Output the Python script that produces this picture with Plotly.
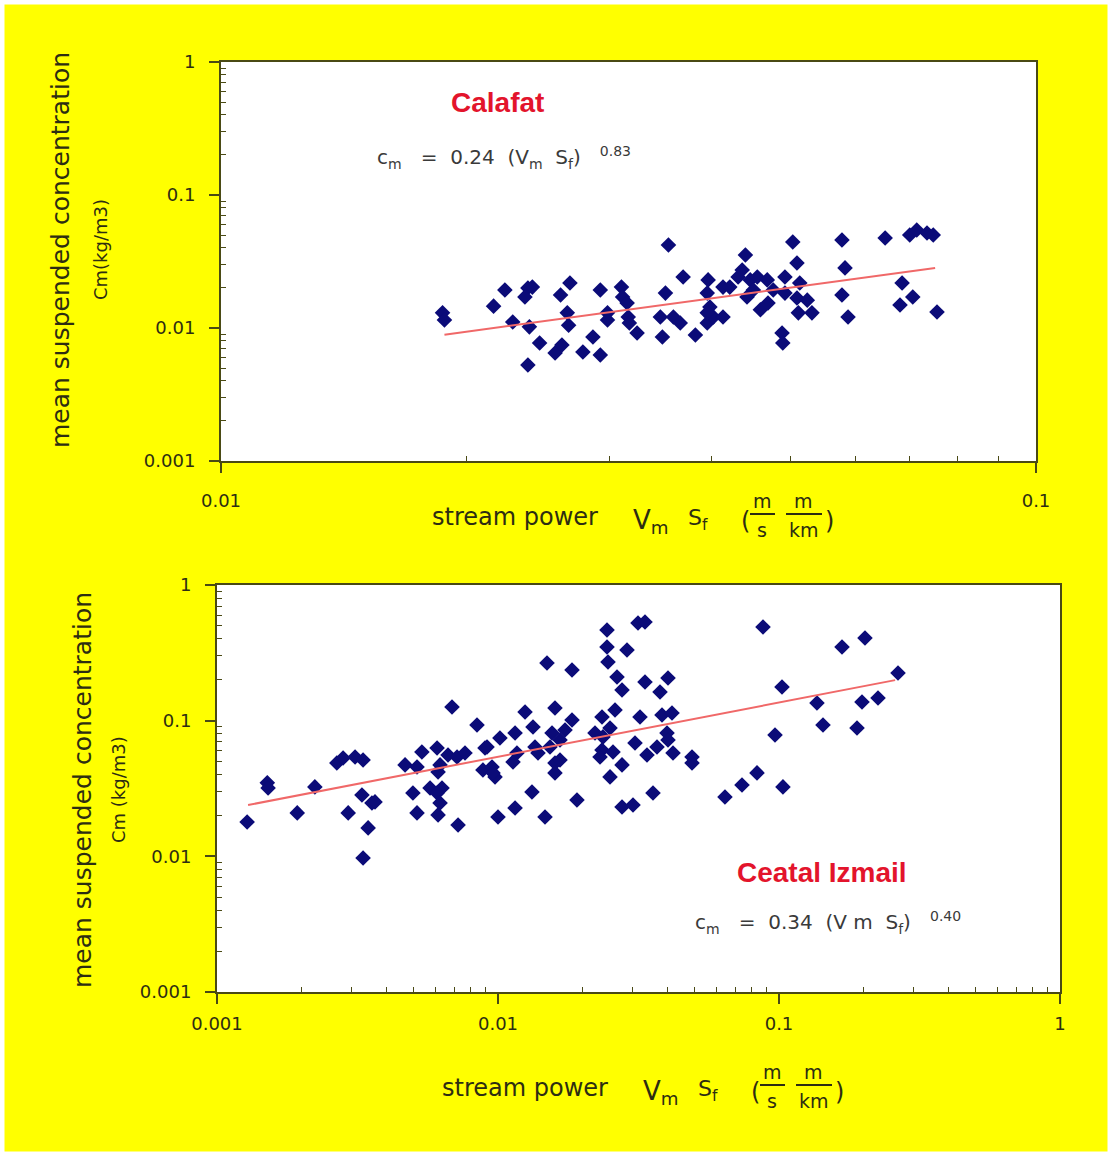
import plotly.graph_objects as go

W, H = 1112, 1156

# ---------------- data: Calafat (top panel) ----------------
cal_x = [0.0187, 0.0188, 0.0216, 0.0223, 0.0228, 0.0238, 0.0241, 0.0236, 0.0239, 0.0238,
         0.0246, 0.0261, 0.0268, 0.0266, 0.0267, 0.0257, 0.0262, 0.0278, 0.0286, 0.0292,
         0.0292, 0.0298, 0.0298, 0.0310, 0.0311, 0.0315, 0.0316, 0.0317, 0.0324, 0.0354,
         0.0351, 0.0346, 0.0359, 0.0366, 0.0348, 0.0369, 0.0382, 0.0396, 0.0395, 0.0398,
         0.0395, 0.0402, 0.0413, 0.0421, 0.0431, 0.0395, 0.0413, 0.0440, 0.0436, 0.0446,
         0.0455, 0.0468, 0.0442, 0.0450, 0.0476, 0.0459, 0.0469, 0.0492, 0.0492, 0.0503,
         0.0509, 0.0513, 0.0509, 0.0524, 0.0511, 0.0531, 0.0488, 0.0489, 0.0578, 0.0583,
         0.0578, 0.0588, 0.0653, 0.0700, 0.0714, 0.0735, 0.0748, 0.0685, 0.0706, 0.0681,
         0.0756]
cal_y = [0.0130, 0.0115, 0.0146, 0.0193, 0.0111, 0.0200, 0.0203, 0.0171, 0.0102, 0.00527,
         0.00771, 0.0177, 0.0218, 0.0130, 0.0105, 0.00649, 0.00745, 0.00660, 0.00856, 0.00627,
         0.0193, 0.0130, 0.0115, 0.0203, 0.0171, 0.0154, 0.0121, 0.0109, 0.00917, 0.0421,
         0.0183, 0.0121, 0.0121, 0.0109, 0.00856, 0.0242, 0.00886, 0.0230, 0.0183, 0.0144,
         0.0109, 0.0121, 0.0203, 0.0203, 0.0242, 0.0130, 0.0121, 0.0354, 0.0273, 0.0230,
         0.0242, 0.0230, 0.0171, 0.0193, 0.0193, 0.0137, 0.0154, 0.0242, 0.0183, 0.0443,
         0.0308, 0.0218, 0.0168, 0.0162, 0.0130, 0.0130, 0.00917, 0.00771, 0.0459, 0.0283,
         0.0177, 0.0121, 0.0475, 0.0500, 0.0545, 0.0518, 0.0500, 0.0218, 0.0171, 0.0149,
         0.0132]
cal_fit_x = [0.0188, 0.0752]
cal_fit_y = [0.0089, 0.0283]

# ---------------- data: Ceatal Izmail (bottom panel) ----------------
cea_x = [0.00128, 0.00151, 0.00152, 0.00193, 0.00223, 0.00267, 0.00281, 0.00310, 0.00331, 0.00293,
         0.00328, 0.00356, 0.00365, 0.00345, 0.00331, 0.00467, 0.00515, 0.00536, 0.00607, 0.00664,
         0.00715, 0.00763, 0.00686, 0.00842, 0.00899, 0.01016, 0.00622, 0.00612, 0.00498, 0.00573,
         0.00632, 0.00607, 0.00622, 0.00515, 0.00612, 0.00721, 0.00884, 0.00952, 0.00976, 0.01000,
         0.00914, 0.00960, 0.01150, 0.01168, 0.01131, 0.01150, 0.01248, 0.01332, 0.01321, 0.01470,
         0.01494, 0.01354, 0.01388, 0.01557, 0.01595, 0.01531, 0.01662, 0.01595, 0.01662, 0.01595,
         0.01732, 0.01834, 0.01834, 0.01910, 0.02443, 0.02443, 0.02463, 0.03149, 0.03335, 0.02878,
         0.02652, 0.02763, 0.03335, 0.04027, 0.03772, 0.02345, 0.02609, 0.02214, 0.02364, 0.02504,
         0.02345, 0.02566, 0.02307, 0.02504, 0.02763, 0.02763, 0.03023, 0.03201, 0.03073, 0.03390,
         0.03680, 0.03834, 0.04161, 0.03994, 0.04027, 0.04196, 0.03561, 0.04903, 0.04903, 0.06423,
         0.07384, 0.08350, 0.08772, 0.09679, 0.1025, 0.1033, 0.1365, 0.1434, 0.1676, 0.2023,
         0.2652, 0.1974, 0.2251, 0.1895]
cea_y = [0.0179, 0.0348, 0.0319, 0.0209, 0.0325, 0.0488, 0.0531, 0.0540, 0.0513, 0.0209,
         0.0283, 0.0247, 0.0252, 0.0162, 0.00973, 0.0472, 0.0456, 0.0588, 0.0629, 0.0559,
         0.0540, 0.0578, 0.1262, 0.0930, 0.0629, 0.0746, 0.0472, 0.0419, 0.0293, 0.0319,
         0.0319, 0.0293, 0.0247, 0.0209, 0.0202, 0.0170, 0.0433, 0.0456, 0.0385, 0.0195,
         0.0640, 0.0412, 0.0812, 0.0578, 0.0496, 0.0227, 0.1159, 0.0899, 0.0298, 0.0195,
         0.2662, 0.0640, 0.0578, 0.0812, 0.1241, 0.0640, 0.0721, 0.0488, 0.0513, 0.0412,
         0.0854, 0.1012, 0.2363, 0.0260, 0.4660, 0.3493, 0.2708, 0.5248, 0.5336, 0.3319,
         0.2099, 0.1684, 0.1929, 0.2064, 0.1627, 0.1065, 0.1199, 0.0812, 0.0759, 0.0884,
         0.0608, 0.0588, 0.0540, 0.0385, 0.0472, 0.0231, 0.0239, 0.1065, 0.0685, 0.0559,
         0.0640, 0.1101, 0.1139, 0.0812, 0.0721, 0.0578, 0.0293, 0.0540, 0.0488, 0.0274,
         0.0336, 0.0412, 0.4903, 0.0785, 0.1771, 0.0325, 0.1350, 0.0930, 0.3493, 0.4069,
         0.2246, 0.1373, 0.1470, 0.0884]
cea_fit_x = [0.00129, 0.259]
cea_fit_y = [0.0239, 0.199]

# ---------------- tick labels ----------------
y_tickvals = [0.001, 0.01, 0.1, 1]
y_ticktext = ["0.001", "0.01", "0.1", "1"]
top_x_tickvals = [0.01, 0.1]
top_x_ticktext = ["0.01", "0.1"]
bot_x_tickvals = [0.001, 0.01, 0.1, 1]
bot_x_ticktext = ["0.001", "0.01", "0.1", "1"]

# ---------------- styling ----------------
YELLOW = "#ffff00"
AX = "#4a4a14"
TXT = "#2d2d12"
NAVY = "#0b0b78"
FITC = "#f06868"
RED = "#e3142c"
SANS = "DejaVu Sans"


def px(xp):
    return xp / W


def py(yp):
    return 1 - yp / H


def minor_vals(e0, e1):
    return [k * 10.0 ** e for e in range(e0, e1) for k in range(2, 10)]


def axis(domain, rng, tickvals, ticktext, standoff, minors, anchor):
    return dict(
        type="log", domain=domain, range=rng, anchor=anchor, automargin=False,
        tickmode="array", tickvals=tickvals, ticktext=ticktext,
        showgrid=False, zeroline=False, showline=True, linecolor=AX, linewidth=2,
        mirror=True, ticks="outside", ticklen=10, tickwidth=2, tickcolor=AX,
        ticklabelstandoff=standoff,
        tickfont=dict(family=SANS, size=18, color=TXT),
        minor=dict(tickmode="array", tickvals=minors, ticks="inside", ticklen=5,
                   tickwidth=1, tickcolor=AX, showgrid=False),
    )


fig = go.Figure()

fig.add_trace(go.Scatter(x=cal_x, y=cal_y, mode="markers", xaxis="x", yaxis="y",
                         marker=dict(symbol="diamond", size=12, color=NAVY), showlegend=False))
fig.add_trace(go.Scatter(x=cal_fit_x, y=cal_fit_y, mode="lines", xaxis="x", yaxis="y",
                         line=dict(color=FITC, width=2), showlegend=False))
fig.add_trace(go.Scatter(x=cea_x, y=cea_y, mode="markers", xaxis="x2", yaxis="y2",
                         marker=dict(symbol="diamond", size=12, color=NAVY), showlegend=False))
fig.add_trace(go.Scatter(x=cea_fit_x, y=cea_fit_y, mode="lines", xaxis="x2", yaxis="y2",
                         line=dict(color=FITC, width=2), showlegend=False))

top_xd = [px(221), px(1036)]
top_yd = [py(461), py(62)]
bot_xd = [px(217), px(1060)]
bot_yd = [py(992), py(585)]

annotations = []
shapes = []


def ann(text, x, y, size, family=SANS, color=TXT, xanchor="center", yanchor="middle", angle=0):
    annotations.append(dict(text=text, x=px(x), y=py(y), xref="paper", yref="paper",
                            showarrow=False, xanchor=xanchor, yanchor=yanchor, textangle=angle,
                            font=dict(family=family, size=size, color=color)))


def xtitle(bx, by):
    ann("stream power", bx, by, 24)
    ann("V<sub>m</sub>", bx + 116, by + 4, 26, xanchor="left")
    ann("S<sub>f</sub>", bx + 171, by + 2, 22, xanchor="left")
    ann("(", bx + 230, by + 4, 24)
    ann("m", bx + 247, by - 16, 19)
    ann("s", bx + 247, by + 13, 19)
    ann("m", bx + 288, by - 16, 19)
    ann("km", bx + 289, by + 13, 19)
    ann(")", bx + 314, by + 4, 24)
    for a, b in [(235, 260), (271, 307)]:
        shapes.append(dict(type="line", xref="paper", yref="paper",
                           x0=px(bx + a), x1=px(bx + b), y0=py(by - 3), y1=py(by - 3),
                           line=dict(color=TXT, width=2)))


# top panel texts
ann("mean suspended concentration", 61, 250, 25, angle=-90)
ann("Cm(kg/m3)", 101, 250, 18, angle=-90)
xtitle(515, 517)
ann("<b>Calafat</b>", 497, 102, 28, family="Liberation Sans", color=RED)
ann("c<sub>m</sub>   =  0.24  (V<sub>m</sub>  S<sub>f</sub>)   <sup>0.83</sup>", 375, 157, 20,
    color="#3a3a3a", xanchor="left")

# bottom panel texts
ann("mean suspended concentration", 82, 790, 25, angle=-90)
ann("Cm (kg/m3)", 118, 790, 18, angle=-90)
xtitle(525, 1088)
ann("<b>Ceatal Izmail</b>", 822, 872, 28, family="Liberation Sans", color=RED)
ann("c<sub>m</sub>   =  0.34  (V m  S<sub>f</sub>)   <sup>0.40</sup>", 693, 922, 20,
    color="#3a3a3a", xanchor="left")

# thin white page border
shapes.append(dict(type="rect", xref="paper", yref="paper", x0=0, y0=0, x1=1, y1=1,
                   line=dict(color="white", width=9), fillcolor="rgba(0,0,0,0)", layer="above"))

fig.update_layout(
    width=W, height=H, margin=dict(l=0, r=0, t=0, b=0, pad=0, autoexpand=False),
    paper_bgcolor=YELLOW, plot_bgcolor="white", showlegend=False,
    xaxis=axis(top_xd, [-2, -1], top_x_tickvals, top_x_ticktext, 12, minor_vals(-2, -1), "y"),
    yaxis=axis(top_yd, [-3, 0], y_tickvals, y_ticktext, 10, minor_vals(-3, 0), "x"),
    xaxis2=axis(bot_xd, [-3, 0], bot_x_tickvals, bot_x_ticktext, 4, minor_vals(-3, 0), "y2"),
    yaxis2=axis(bot_yd, [-3, 0], y_tickvals, y_ticktext, 10, minor_vals(-3, 0), "x2"),
    annotations=annotations, shapes=shapes,
)

fig.write_html("out.html")
